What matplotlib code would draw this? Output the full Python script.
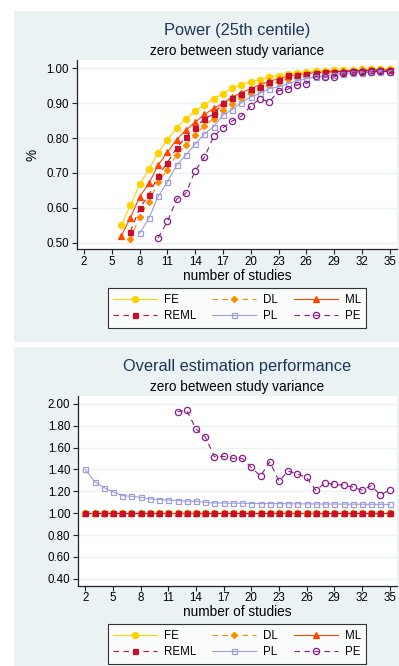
import numpy as np
import matplotlib
matplotlib.use("Agg")
import matplotlib.pyplot as plt
from matplotlib.patches import Rectangle

plt.rcParams['font.family'] = ['Liberation Sans', 'DejaVu Sans']

# number of studies (x axis)
studies = np.arange(2, 36)

# power (25th centile), each series starts where it first appears
power_start = {'FE': 6, 'DL': 7, 'ML': 6, 'REML': 7, 'PL': 8, 'PE': 10}
power_FE = [0.550, 0.607, 0.667, 0.711, 0.758, 0.795, 0.830, 0.855, 0.878, 0.895,
            0.913, 0.927, 0.945, 0.953, 0.962, 0.968, 0.976, 0.979, 0.984, 0.987,
            0.990, 0.992, 0.993, 0.994, 0.995, 0.996, 0.997, 0.997, 0.998, 0.998]
power_DL = [0.510, 0.575, 0.616, 0.674, 0.709, 0.752, 0.779, 0.809, 0.836, 0.856,
            0.882, 0.899, 0.915, 0.928, 0.940, 0.952, 0.962, 0.970, 0.976, 0.981,
            0.985, 0.988, 0.990, 0.991, 0.992, 0.993, 0.994, 0.995, 0.995]
power_ML = [0.519, 0.571, 0.632, 0.670, 0.723, 0.759, 0.796, 0.823, 0.846, 0.868,
            0.885, 0.900, 0.918, 0.930, 0.942, 0.953, 0.963, 0.970, 0.977, 0.982,
            0.985, 0.988, 0.990, 0.991, 0.992, 0.993, 0.994, 0.995, 0.995, 0.996]
power_REML = [0.532, 0.599, 0.637, 0.692, 0.730, 0.772, 0.803, 0.829, 0.856, 0.868,
              0.900, 0.914, 0.927, 0.942, 0.948, 0.962, 0.966, 0.980, 0.982, 0.985,
              0.987, 0.989, 0.990, 0.991, 0.992, 0.993, 0.994, 0.995, 0.995]
power_PL = [0.527, 0.570, 0.633, 0.674, 0.723, 0.752, 0.783, 0.812, 0.833, 0.866,
            0.882, 0.902, 0.918, 0.928, 0.942, 0.947, 0.956, 0.964, 0.970, 0.975,
            0.979, 0.982, 0.985, 0.987, 0.988, 0.989, 0.990, 0.991]
power_PE = [0.514, 0.561, 0.625, 0.642, 0.707, 0.745, 0.805, 0.830, 0.849, 0.863,
            0.892, 0.913, 0.903, 0.936, 0.940, 0.952, 0.956, 0.977, 0.975, 0.975,
            0.986, 0.989, 0.990, 0.990, 0.992, 0.990]

# overall estimation performance
perf_start = {'FE': 2, 'DL': 2, 'ML': 2, 'REML': 2, 'PL': 2, 'PE': 12}
perf_FE = [1.00, 1.00, 1.00, 1.00, 1.00, 1.00, 1.00, 1.00, 1.00, 1.00, 1.00, 1.00,
           1.00, 1.00, 1.00, 1.00, 1.00, 1.00, 1.00, 1.00, 1.00, 1.00, 1.00, 1.00,
           1.00, 1.00, 1.00, 1.00, 1.00, 1.00, 1.00, 1.00, 1.00, 1.00]
perf_DL = list(perf_FE)
perf_ML = list(perf_FE)
perf_REML = list(perf_FE)
perf_PL = [1.400, 1.290, 1.235, 1.195, 1.160, 1.155, 1.145, 1.130, 1.125, 1.120,
           1.115, 1.110, 1.108, 1.100, 1.093, 1.092, 1.092, 1.091, 1.088, 1.088,
           1.087, 1.087, 1.086, 1.086, 1.085, 1.084, 1.084, 1.083, 1.083, 1.082,
           1.082, 1.081, 1.081, 1.080]
perf_PE = [1.929, 1.942, 1.771, 1.700, 1.517, 1.520, 1.502, 1.502, 1.419, 1.339,
           1.471, 1.294, 1.385, 1.358, 1.327, 1.208, 1.278, 1.263, 1.257, 1.239,
           1.211, 1.250, 1.168, 1.211]

methods = ['FE', 'DL', 'ML', 'REML', 'PL', 'PE']

# stata s2color-like styles
styles = {
    'FE':   dict(color='#FFD200', ls='-', marker='o', ms=4.5, mfc='#FFD200', mec='#FFD200'),
    'DL':   dict(color='#FF8C00', ls=(0, (5, 4)), marker='D', ms=3.2, mfc='#FF8C00', mec='#FF8C00'),
    'ML':   dict(color='#FF4500', ls='-', marker='^', ms=4.0, mfc='#FF4500', mec='#FF4500'),
    'REML': dict(color='#C8102E', ls=(0, (5, 4)), marker='s', ms=3.6, mfc='#C8102E', mec='#C8102E'),
    'PL':   dict(color='#9D9DDC', ls='-', marker='s', ms=3.6, mfc='none', mec='#9D9DDC'),
    'PE':   dict(color='#8B1A8B', ls=(0, (5, 4)), marker='o', ms=4.5, mfc='none', mec='#8B1A8B'),
}

BG = '#EAF2F3'
TITLE_C = '#1E3557'
W, H = 399, 666

fig = plt.figure(figsize=(W / 100, H / 100), dpi=100)
fig.patch.set_facecolor('white')

# panel backgrounds
fig.add_artist(Rectangle((14 / W, 1 - 342 / H), 1 - 14 / W, (342 - 11) / H,
                         transform=fig.transFigure, facecolor=BG, edgecolor='none', zorder=0))
fig.add_artist(Rectangle((14 / W, 0), 1 - 14 / W, 1 - 347 / H,
                         transform=fig.transFigure, facecolor=BG, edgecolor='none', zorder=0))


def style_axes(ax, yticks, ylim, xlim, xpad):
    ax.set_facecolor('white')
    ax.set_xlim(*xlim)
    ax.set_ylim(*ylim)
    ax.set_xticks(np.arange(2, 36, 3))
    ax.set_yticks(yticks)
    ax.set_yticklabels(['%.2f' % v for v in yticks])
    ax.yaxis.grid(True, color=BG, lw=1.0)
    ax.set_axisbelow(True)
    for s in ['top', 'right']:
        ax.spines[s].set_visible(False)
    for s in ['left', 'bottom']:
        ax.spines[s].set_color('#222222')
        ax.spines[s].set_linewidth(0.9)
    ax.tick_params(axis='both', labelsize=8.3, length=3.6, width=0.8, color='#222222')
    ax.tick_params(axis='y', pad=2.2)
    ax.tick_params(axis='x', pad=xpad)


def draw(ax, data, start):
    handles = {}
    for m in methods:
        vals = data[m]
        x = studies[start[m] - 2: start[m] - 2 + len(vals)]
        st = styles[m]
        h, = ax.plot(x, vals, color=st['color'], ls=st['ls'], lw=0.8,
                     marker=st['marker'], ms=st['ms'], mfc=st['mfc'], mec=st['mec'],
                     mew=0.9, label=m)
        handles[m] = h
    return handles


def add_legend(handles, cy):
    order = ['FE', 'REML', 'DL', 'PL', 'ML', 'PE']
    leg = fig.legend([handles[k] for k in order], order, loc='center',
                     bbox_to_anchor=(237 / W, cy), bbox_transform=fig.transFigure,
                     ncol=3, fontsize=8.3, handlelength=3.8, handletextpad=0.6,
                     columnspacing=1.4, labelspacing=0.42, borderpad=0.45,
                     borderaxespad=0, frameon=True, fancybox=False, numpoints=1)
    leg.get_frame().set_edgecolor('black')
    leg.get_frame().set_linewidth(0.8)
    leg.get_frame().set_facecolor('white')
    return leg


# ---- top panel: power ----
ax1 = fig.add_axes([76.7 / W, 1 - 249 / H, (397 - 76.7) / W, (249 - 60) / H])
power = {'FE': power_FE, 'DL': power_DL, 'ML': power_ML,
         'REML': power_REML, 'PL': power_PL, 'PE': power_PE}
h1 = draw(ax1, power, power_start)
style_axes(ax1, np.arange(0.5, 1.001, 0.1), (0.482, 1.024), (1.2, 35.8), 1.5)
fig.text(237 / W, 1 - 31 / H, 'Power (25th centile)', ha='center', va='center',
         fontsize=11.8, color=TITLE_C)
fig.text(237 / W, 1 - 50.7 / H, 'zero between study variance', ha='center',
         va='center', fontsize=9.8, color='black')
fig.text(237 / W, 1 - 269.5 / H, 'number of studies', ha='center', va='top', fontsize=9.8)
fig.text(32.7 / W, 1 - 155 / H, '%', ha='center', va='center', rotation=90, fontsize=9.8)
add_legend(h1, 1 - 308 / H)

# ---- bottom panel: overall estimation performance ----
ax2 = fig.add_axes([78.3 / W, 1 - 586 / H, (397 - 78.3) / W, (586 - 396) / H])
perf = {'FE': perf_FE, 'DL': perf_DL, 'ML': perf_ML,
        'REML': perf_REML, 'PL': perf_PL, 'PE': perf_PE}
h2 = draw(ax2, perf, perf_start)
style_axes(ax2, np.arange(0.4, 2.001, 0.2), (0.333, 2.073), (1.24, 35.8), 1.0)
fig.text(237 / W, 1 - 366.7 / H, 'Overall estimation performance', ha='center', va='center',
         fontsize=11.8, color=TITLE_C)
fig.text(237 / W, 1 - 386.7 / H, 'zero between study variance', ha='center', va='center',
         fontsize=9.8, color='black')
fig.text(237 / W, 1 - 605.5 / H, 'number of studies', ha='center', va='top', fontsize=9.8)
add_legend(h2, 1 - 644 / H)

fig.savefig('out.png', dpi=100, facecolor=fig.get_facecolor())
